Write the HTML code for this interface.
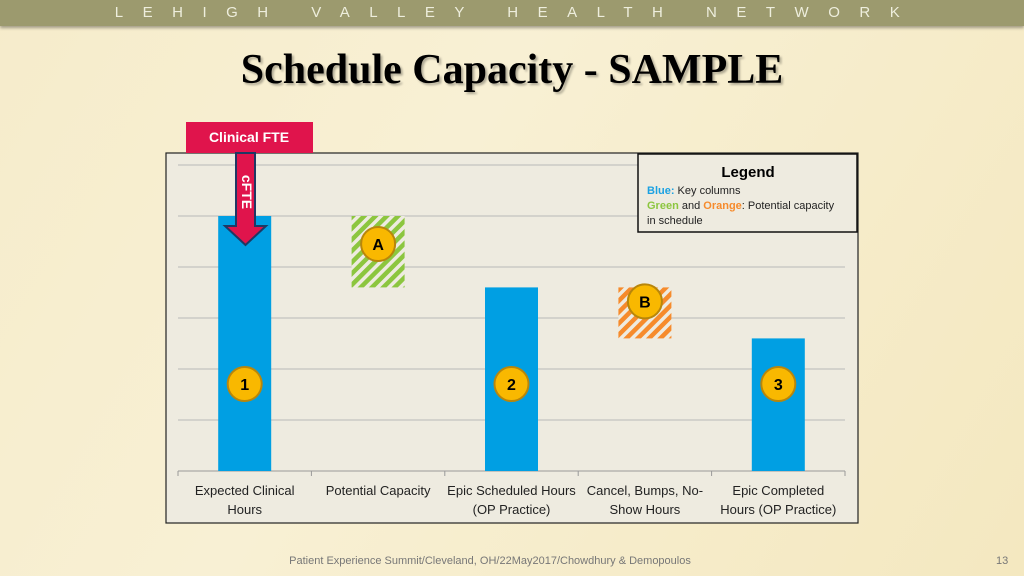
<!DOCTYPE html>
<html><head><meta charset="utf-8">
<style>
body{margin:0;width:1024px;height:576px;overflow:hidden;background:linear-gradient(120deg,#f6eccb 0%,#f8f0d4 40%,#f4e8c0 100%);font-family:"Liberation Sans",sans-serif;position:relative}
#hdr{position:absolute;left:0;top:0;width:1024px;height:26px;background:#9c9a6e;box-shadow:0 2px 3px rgba(0,0,0,.35);color:#eeeedd;font-size:15px;letter-spacing:19.5px;line-height:26px;text-align:center;padding-left:10px;box-sizing:border-box}
#title{position:absolute;left:0;width:1024px;top:46px;text-align:center;font-family:"Liberation Serif",serif;font-weight:bold;font-size:42px;color:#000;text-shadow:2px 2px 2px rgba(0,0,0,.3)}
#foot{position:absolute;top:555px;left:0;width:980px;text-align:center;font-size:11px;color:#777}
#pg{position:absolute;top:555px;left:996px;font-size:11px;color:#777}
</style></head><body>
<div id="hdr">LEHIGH VALLEY HEALTH NETWORK</div>
<div id="title">Schedule Capacity - SAMPLE</div>
<svg id="chart" width="1024" height="576" style="position:absolute;left:0;top:0">
<defs>
<pattern id="hg" width="8" height="8" patternUnits="userSpaceOnUse" patternTransform="rotate(45)"><rect width="8" height="8" fill="#eeebe0"/><rect width="4.5" height="8" fill="#8cc63f"/></pattern>
<pattern id="ho" width="8" height="8" patternUnits="userSpaceOnUse" patternTransform="rotate(45)"><rect width="8" height="8" fill="#eeebe0"/><rect width="4.5" height="8" fill="#f68b2c"/></pattern>
</defs>
<rect x="166" y="153" width="692" height="370" fill="#eeebe0" stroke="#222" stroke-width="1.2"/>
<g id="grid"></g><g id="bars"></g><g id="labels"></g>
<rect x="186" y="122" width="127" height="31" fill="#e0144c"/>
<text x="249" y="142" text-anchor="middle" font-family="Liberation Sans" font-weight="bold" font-size="14" fill="#fff">Clinical FTE</text>
<path d="M236 153 H255 V226 H266 L245.5 245 L225 226 H236 Z" fill="#e0144c" stroke="#1f3864" stroke-width="2"/>
<text x="245.5" y="192" transform="rotate(90 245.5 192)" text-anchor="middle" dominant-baseline="middle" font-weight="bold" font-size="14" fill="#fff">cFTE</text>
<g>
<rect x="638" y="154" width="219" height="78" fill="#eeebe0" stroke="#111" stroke-width="1.5"/>
<text x="748" y="177" text-anchor="middle" font-weight="bold" font-size="15" fill="#000">Legend</text>
<text x="647" y="194" font-size="11" fill="#222"><tspan fill="#1ba1e2" font-weight="bold">Blue:</tspan> Key columns</text>
<text x="647" y="209" font-size="11" fill="#222"><tspan fill="#8cc63f" font-weight="bold">Green</tspan> and <tspan fill="#f68b2c" font-weight="bold">Orange</tspan>: Potential capacity</text>
<text x="647" y="224" font-size="11" fill="#222">in schedule</text>
</g>
</svg>
<div id="foot">Patient Experience Summit/Cleveland, OH/22May2017/Chowdhury &amp; Demopoulos</div>
<div id="pg">13</div>
<script>
const categories=[["Expected Clinical","Hours"],["Potential Capacity"],["Epic Scheduled Hours","(OP Practice)"],["Cancel, Bumps, No-","Show Hours"],["Epic Completed","Hours (OP Practice)"]];
const barTops=[5,5,3.6,3.6,2.6];
const barBottoms=[0,3.6,0,2.6,0];
const barKinds=["blue","green","blue","orange","blue"];
const badges=["1","A","2","B","3"];
const yTicks=[0,1,2,3,4,5,6];
const NS="http://www.w3.org/2000/svg";
const x0=178,x1=845,y0=471,unit=51;
const cw=(x1-x0)/categories.length;
const yS=v=>y0-v*unit;
const xC=i=>x0+cw*(i+0.5);
function mk(t,a,p){const e=document.createElementNS(NS,t);for(const k in a)e.setAttribute(k,a[k]);p.appendChild(e);return e;}
const g=document.getElementById('grid');
yTicks.forEach(v=>{const l=mk('line',{x1:x0,x2:x1,y1:yS(v),y2:yS(v),stroke:v?'#b8b8b8':'#999','stroke-width':1},g);

});
for(let i=0;i<=categories.length;i++){const t=mk('line',{x1:x0+cw*i,x2:x0+cw*i,y1:y0,y2:y0+5,stroke:'#999'},g);

}
const b=document.getElementById('bars'),lb=document.getElementById('labels');
const fills={blue:'#009fe3',green:'url(#hg)',orange:'url(#ho)'};
categories.forEach((c,i)=>{
const top=yS(barTops[i]),bot=yS(barBottoms[i]);
const r=mk('rect',{x:xC(i)-26.5,y:top,width:53,height:bot-top,fill:fills[barKinds[i]]},b);


const cy=barKinds[i]==='blue'?384:top+(barKinds[i]==='green'?28:14);
const cx=xC(i);
const ci=mk('circle',{cx:cx,cy:cy,r:17,fill:'#f9b800',stroke:'#b8860b','stroke-width':2},lb);


const tx=mk('text',{x:cx,y:cy+6,'text-anchor':'middle','font-weight':'bold','font-size':16,fill:'#000'},lb);tx.textContent=badges[i];
c.forEach((s,j)=>{const t=mk('text',{x:xC(i),y:495+j*19,'text-anchor':'middle','font-size':13,fill:'#222'},lb);t.textContent=s;

});
});
</script>
</body></html>
